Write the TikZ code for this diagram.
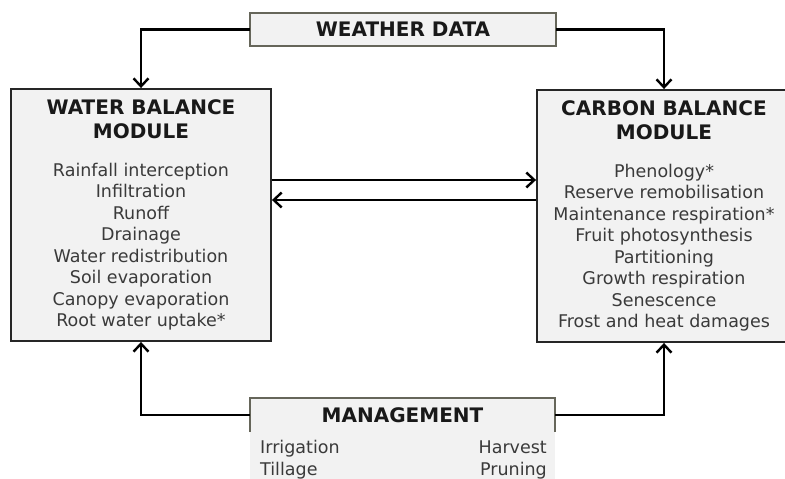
\documentclass[tikz,border=0pt]{standalone}
\usepackage{fontspec}
\setmainfont{DejaVu Sans}
\usepackage{tikz}
\usetikzlibrary{positioning,arrows.meta}
\definecolor{boxfill}{HTML}{F2F2F2}
\definecolor{edgegrey}{HTML}{66665A}
\definecolor{bodytext}{HTML}{3A3A3A}
\newcommand{\modtitle}{\fontsize{20}{24}\selectfont\bfseries\color{black!90}}
\tikzstyle{modblock} = [rectangle, minimum width=260pt, minimum height=252pt, align=center, draw=black!85, line width=1.9pt, fill=boxfill, text=bodytext, font=\fontsize{17.5}{21.5}\selectfont, inner sep=0pt]
\tikzstyle{datablock} = [rectangle, minimum width=306pt, minimum height=33pt, fill=boxfill, text=black!90, font=\fontsize{20}{24}\selectfont\bfseries, inner sep=0pt]
\tikzstyle{item} = [text=bodytext, font=\fontsize{17.5}{21.5}\selectfont, inner sep=0pt]
\tikzstyle{line} = [draw, line width=2.4pt, -{Straight Barb[length=8pt,width=15pt]}]

\begin{document}
\begin{tikzpicture}[x=1pt, y=-1pt]
				\useasboundingbox (0,0) rectangle (785,479);
				% Place nodes
				\node [datablock] (weather) at (403,29.5) {WEATHER DATA};
				\draw [edgegrey, line width=1.5pt] (weather.south west) rectangle (weather.north east);
				\node [modblock] (water) at (141,215) {{\modtitle WATER BALANCE}\\[2.5pt]{\modtitle MODULE}\\[16.5pt]
					Rainfall interception\\Infiltration\\Runoff\\Drainage\\Water redistribution\\Soil evaporation\\Canopy evaporation\\Root water uptake*};
				\node [modblock, minimum width=254pt] (carbon) at (664,216) {{\modtitle CARBON BALANCE}\\[2.5pt]{\modtitle MODULE}\\[16.5pt]
					Phenology*\\Reserve remobilisation\\Maintenance respiration*\\Fruit photosynthesis\\Partitioning\\Growth respiration\\Senescence\\Frost and heat damages};
				\fill [boxfill] (250,430) rectangle (555,495);
				\node [datablock, minimum width=305pt, minimum height=34pt] (mgmt) at (402.5,415) {MANAGEMENT};
				\draw [edgegrey, line width=1.5pt] (mgmt.south west) -- (mgmt.north west) -- (mgmt.north east) -- (mgmt.south east);
				\node [item, anchor=base west] (irrig) at (260,453) {Irrigation};
				\node [item, anchor=base west] (tillage) at (260,475) {Tillage};
				\node [item, anchor=base east] (harvest) at (547,453) {Harvest};
				\node [item, anchor=base east] (pruning) at (547,475) {Pruning};
				% Draw edges
				\path [line] (weather.west) -| (water.north);
				\path [line] (weather.east) -| (carbon.north);
				\path [line] ([yshift=35pt]water.east) -- ([yshift=35pt]water.east -| carbon.west);
				\path [line] ([yshift=15pt]water.east -| carbon.west) -- ([yshift=15pt]water.east);
				\path [line] (mgmt.west) -| (water.south);
				\path [line] (mgmt.east) -| (carbon.south);
\end{tikzpicture}
\end{document}
